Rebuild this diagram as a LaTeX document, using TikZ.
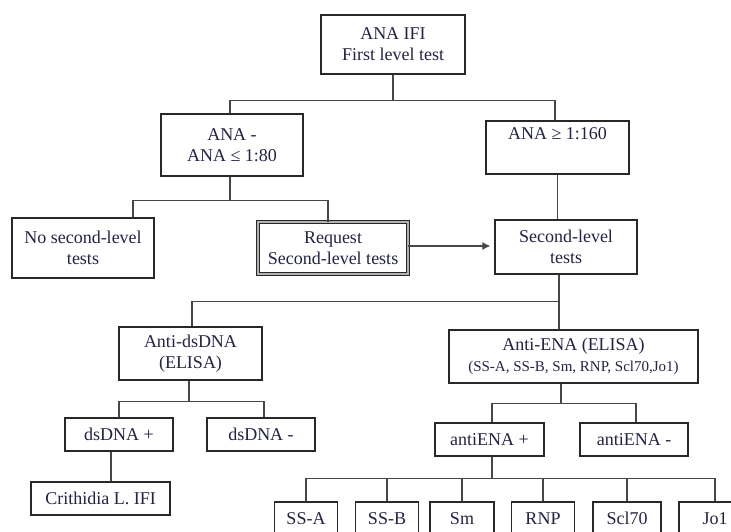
\documentclass[tikz,border=0pt]{standalone}
\usepackage{fontspec}
\setmainfont{Liberation Serif}
\usetikzlibrary{calc,arrows.meta}
\definecolor{boxc}{RGB}{40,40,40}
\definecolor{linec}{RGB}{70,70,70}
\definecolor{txtc}{RGB}{35,35,70}
\begin{document}
\begin{tikzpicture}[x=1pt,y=-1pt,
  box/.style={draw=boxc,line width=1.3pt,inner sep=0pt,align=center,text=txtc,
    font=\fontsize{18}{21}\selectfont},
  conn/.style={draw=linec,line width=1.1pt}]
\useasboundingbox (0,0) rectangle (731,531);
\fill[white] (0,0) rectangle (731,531);
\clip (0,0) rectangle (731,531);

% nodes
\node[box,minimum width=144pt,minimum height=59pt] (top) at (393,44.5) {ANA IFI\\First level test};
\node[box,minimum width=142pt,minimum height=62pt] (ananeg) at (232,145) {ANA -\\ANA ≤ 1:80};
\node[box,minimum width=143pt,minimum height=53pt] (anapos) at (557.5,147.5) {ANA ≥ 1:160\\[0pt]\strut};
\node[box,minimum width=142pt,minimum height=60pt] (nosec) at (83,248) {No second-level\\tests};
\node[box,draw=boxc,double=gray!60,double distance=1.8pt,line width=0.9pt,
  minimum width=150pt,minimum height=52pt] (req) at (333,248) {Request\\Second-level tests};
\node[box,minimum width=142pt,minimum height=54pt] (second) at (566,247) {Second-level\\tests};
\node[box,minimum width=143pt,minimum height=53pt] (antids) at (190.5,353.5) {Anti-dsDNA\\(ELISA)};
\node[box,minimum width=249pt,minimum height=53pt] (antiena) at (573.5,356.5)
  {Anti-ENA (ELISA)\\{\fontsize{15}{16}\selectfont (SS-A, SS-B, Sm, RNP, Scl70,Jo1)}};
\node[box,minimum width=108pt,minimum height=33pt] (dsp) at (119,434.5) {dsDNA +};
\node[box,minimum width=108pt,minimum height=33pt] (dsn) at (261,434.5) {dsDNA -};
\node[box,minimum width=139pt,minimum height=33pt] (crith) at (100.5,498.5) {Crithidia L. IFI};
\node[box,minimum width=109pt,minimum height=33pt] (enap) at (489.5,439.5) {antiENA +};
\node[box,minimum width=108pt,minimum height=33pt] (enan) at (634,439.5) {antiENA -};
\node[box,minimum width=63pt,minimum height=33pt] (ssa) at (306,518.5) {SS-A};
\node[box,minimum width=63pt,minimum height=33pt] (ssb) at (387,518.5) {SS-B};
\node[box,minimum width=64pt,minimum height=33pt] (sm) at (462,518.5) {Sm};
\node[box,minimum width=63pt,minimum height=33pt] (rnp) at (543,518.5) {RNP};
\node[box,minimum width=68pt,minimum height=33pt] (scl) at (627,518.5) {Scl70};
\node[box,minimum width=72pt,minimum height=33pt] (jo1) at (715,518.5) {Jo1};

% connectors
\draw[conn] (top.south) -- ($(top.south)+(0,26)$);
\draw[conn] ($(ananeg.north)+(-2,0)$) |- ($(top.south)+(0,26)$) -| ($(anapos.north)+(-2.5,0)$);

\draw[conn] ($(ananeg.south)+(-2,0)$) -- ($(ananeg.south)+(-2,23.5)$);
\draw[conn] ($(nosec.north)+(50,0)$) |- ($(ananeg.south)+(-2,23.5)$) -| ($(req.north)+(-5,0)$);

\draw[conn] (anapos.south) -- (anapos.south |- second.north);
\draw[conn,-{Latex[length=8pt,width=8pt]},shorten >=4pt] ($(req.east)+(0,-2)$) -- ($(second.west)+(0,-1)$);

\draw[conn] ($(second.south)+(-7,0)$) -- ($(antiena.north)+(-14.5,0)$);
\draw[conn] ($(antids.north)+(1.5,0)$) |- ($(second.south)+(-7,27)$);

\draw[conn] ($(antids.south)+(-1.5,0)$) -- ($(antids.south)+(-1.5,21)$);
\draw[conn] (dsp.north) |- ($(antids.south)+(-1.5,21)$) -| ($(dsn.north)+(3,0)$);
\draw[conn] ($(dsp.south)+(-8,0)$) -- ($(crith.north)+(10.5,0)$);

\draw[conn] ($(antiena.south)+(-12.5,0)$) -- ($(antiena.south)+(-12.5,20)$);
\draw[conn] ($(enap.north)+(2.5,0)$) |- ($(antiena.south)+(-12.5,20)$) -| ($(enan.north)+(2,0)$);

\coordinate (hb) at ($(enap.south)+(2.5,22)$);
\draw[conn] ($(enap.south)+(2.5,0)$) -- (hb);
\draw[conn] (ssa.north) |- (hb) -| (jo1.north);
\foreach \n in {ssb,sm,rnp,scl}
  \draw[conn] (\n.north) -- (\n.north |- hb);
\end{tikzpicture}
\end{document}
